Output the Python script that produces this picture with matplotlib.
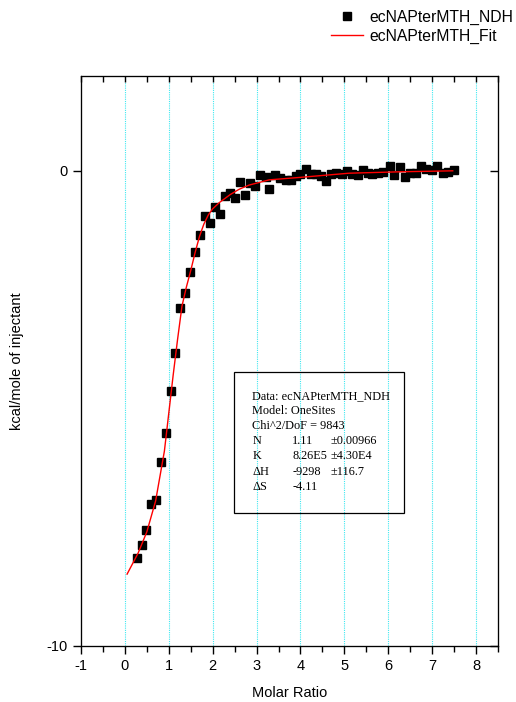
import matplotlib.pyplot as plt
from matplotlib.patches import Rectangle
from matplotlib.ticker import MultipleLocator

# measured points (molar ratio, kcal/mole of injectant)
ratio = [0.28, 0.38, 0.49, 0.60, 0.72, 0.82, 0.93, 1.04, 1.15, 1.26,
         1.38, 1.49, 1.60, 1.71, 1.83, 1.93, 2.05, 2.17, 2.28, 2.40,
         2.51, 2.62, 2.74, 2.85, 2.97, 3.08, 3.21, 3.29, 3.42, 3.54,
         3.67, 3.78, 3.89, 4.00, 4.12, 4.23, 4.35, 4.46, 4.58, 4.69,
         4.81, 4.94, 5.06, 5.17, 5.30, 5.42, 5.53, 5.64, 5.76, 5.87,
         6.03, 6.14, 6.26, 6.39, 6.50, 6.63, 6.75, 6.86, 7.00, 7.11,
         7.24, 7.36, 7.50]
heat = [-8.16, -7.87, -7.57, -7.01, -6.92, -6.14, -5.51, -4.64, -3.84, -2.89,
        -2.57, -2.13, -1.71, -1.35, -0.95, -1.10, -0.76, -0.90, -0.53, -0.47,
        -0.57, -0.24, -0.50, -0.26, -0.32, -0.09, -0.14, -0.39, -0.08, -0.16,
        -0.20, -0.19, -0.11, -0.07, 0.03, -0.07, -0.07, -0.11, -0.21, -0.07,
        -0.05, -0.07, 0.00, -0.07, -0.09, 0.02, -0.05, -0.07, -0.04, -0.02,
        0.10, -0.09, 0.07, -0.12, -0.04, -0.04, 0.10, 0.03, 0.02, 0.10,
        -0.05, -0.02, 0.02]

# fit curve
fit_x = [0.05, 0.3, 0.5, 0.7, 0.9, 1.0, 1.1, 1.2, 1.3, 1.4, 1.5, 1.6, 1.7,
         1.8, 1.9, 2.0, 2.15, 2.4, 2.6, 2.83, 3.29, 3.97, 5.11, 6.3, 7.47]
fit_y = [-8.49, -8.05, -7.6, -6.95, -5.9, -5.1, -4.3, -3.55, -2.85, -2.45,
         -2.1, -1.72, -1.38, -1.12, -0.93, -0.80, -0.67, -0.50, -0.39, -0.30,
         -0.19, -0.14, -0.05, -0.02, 0.0]

params = [("N", "1.11", "\u00b10.00966"),
          ("K", "8.26E5", "\u00b14.30E4"),
          ("\u0394H", "-9298", "\u00b1116.7"),
          ("\u0394S", "-4.11", "")]

plt.rcParams['font.family'] = ['Liberation Sans', 'DejaVu Sans']
plt.rcParams['axes.unicode_minus'] = False

fig = plt.figure(figsize=(5.16, 7.02), dpi=100)
ax = fig.add_axes([0.157, 0.080, 0.808, 0.812])

for gx in range(0, 9):
    ax.axvline(gx, color='#40e8f0', lw=0.8, ls=(0, (1, 1)), zorder=0)

ax.plot(ratio, heat, 's', color='black', ms=5.8, label='ecNAPterMTH_NDH', zorder=3)
ax.plot(fit_x, fit_y, '-', color='red', lw=1.0, label='ecNAPterMTH_Fit', zorder=4)

ax.set_xlim(-1, 8.5)
ax.set_ylim(-10, 2)
ax.set_xticks(range(-1, 9))
ax.xaxis.set_minor_locator(MultipleLocator(0.5))
ax.set_yticks([-10, 0])
ax.tick_params(axis='x', which='both', direction='out', labelsize=10.5)
ax.tick_params(axis='y', direction='out', labelsize=10.5)
ax.tick_params(which='major', length=6, width=1)
ax.tick_params(which='minor', length=4, width=1)

# inward ticks on the top and right edges
top = ax.twiny()
top.set_xlim(ax.get_xlim())
top.set_xticks(range(-1, 9))
top.xaxis.set_minor_locator(MultipleLocator(0.5))
top.tick_params(which='both', direction='in', length=4, width=1, labeltop=False)
right = ax.twinx()
right.set_ylim(ax.get_ylim())
right.set_yticks([-10, 0])
right.tick_params(direction='in', length=6, width=1, labelright=False)

ax.set_xlabel('Molar Ratio', fontsize=10.5, labelpad=9)
ax.set_ylabel('kcal/mole of injectant', fontsize=10.5, labelpad=16)

# fit parameter box
ax.add_patch(Rectangle((2.49, -7.20), 3.86, 2.97, fill=False, ec='black', lw=0.9, zorder=5))
serif = ['Liberation Serif', 'DejaVu Serif']
y0, dy = -4.75, 0.316
head = ["Data: ecNAPterMTH_NDH", "Model: OneSites", "Chi^2/DoF = 9843"]
for i, s in enumerate(head):
    ax.text(2.90, y0 - i * dy, s, family=serif, fontsize=8.8, va='center')
for j, (name, val, err) in enumerate(params):
    yy = y0 - (len(head) + j) * dy
    ax.text(2.90, yy, name, family=serif, fontsize=8.8, va='center')
    ax.text(3.81, yy, val, family=serif, fontsize=8.8, va='center')
    ax.text(4.68, yy, err, family=serif, fontsize=8.8, va='center')

fig.legend(loc='upper right', bbox_to_anchor=(1.012, 1.0), frameon=False,
           fontsize=11.3, handlelength=2.0, handletextpad=0.4,
           borderaxespad=0.2, labelspacing=0.25)

fig.savefig('out.png', dpi=100)
